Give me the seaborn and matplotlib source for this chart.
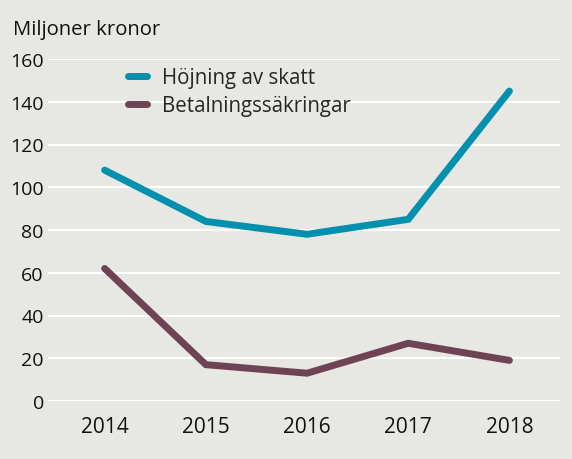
import matplotlib.pyplot as plt
import seaborn as sns
import pandas as pd

years = [2014, 2015, 2016, 2017, 2018]
hojning = [108, 84, 78, 85, 145]
betalning = [62, 17, 13, 27, 19]
series_names = ["Höjning av skatt", "Betalningssäkringar"]
yticks = [0, 20, 40, 60, 80, 100, 120, 140, 160]

df = pd.DataFrame({
    "year": [str(y) for y in years] * 2,
    "value": hojning + betalning,
    "series": [series_names[0]] * len(years) + [series_names[1]] * len(years),
})

bg = "#e7e7e3"
sns.set_theme(style="white")
plt.rcParams["font.family"] = ["Open Sans", "DejaVu Sans"]

fig = plt.figure(figsize=(5.72, 4.6), dpi=100, facecolor=bg)
ax = fig.add_axes([48 / 572, 58 / 460, 512 / 572, 342 / 460])
ax.set_facecolor(bg)

sns.lineplot(
    data=df, x="year", y="value", hue="series",
    palette=["#0190ae", "#6e4455"], linewidth=5,
    solid_capstyle="round", solid_joinstyle="miter", ax=ax, clip_on=False,
)

ax.set_ylim(0, 160)
ax.set_xlim(-0.56, 4.5)
ax.set_yticks(yticks)
ax.grid(axis="y", color="white", linewidth=1.5)
ax.set_axisbelow(True)
for s in ax.spines.values():
    s.set_visible(False)
ax.tick_params(axis="y", labelsize=14, pad=3, length=0, colors="#111111")
ax.tick_params(axis="x", labelsize=15, pad=11, length=0, colors="#111111")
for lbl in ax.get_yticklabels():
    lbl.set_horizontalalignment("right")
ax.set_xlabel("")
ax.set_ylabel("")

fig.text(13 / 572, 1 - 30 / 460, "Miljoner kronor", fontsize=14.6, va="center", ha="left", color="#111111")

leg = ax.legend(
    loc="upper left", bbox_to_anchor=(0.12, 1.03), frameon=False,
    fontsize=14.8, handlelength=0.95, handletextpad=0.7, labelspacing=0.35,
)
for line in leg.get_lines():
    line.set_linewidth(5)
    line.set_solid_capstyle("round")

fig.savefig("out.png", dpi=100, facecolor=bg)
